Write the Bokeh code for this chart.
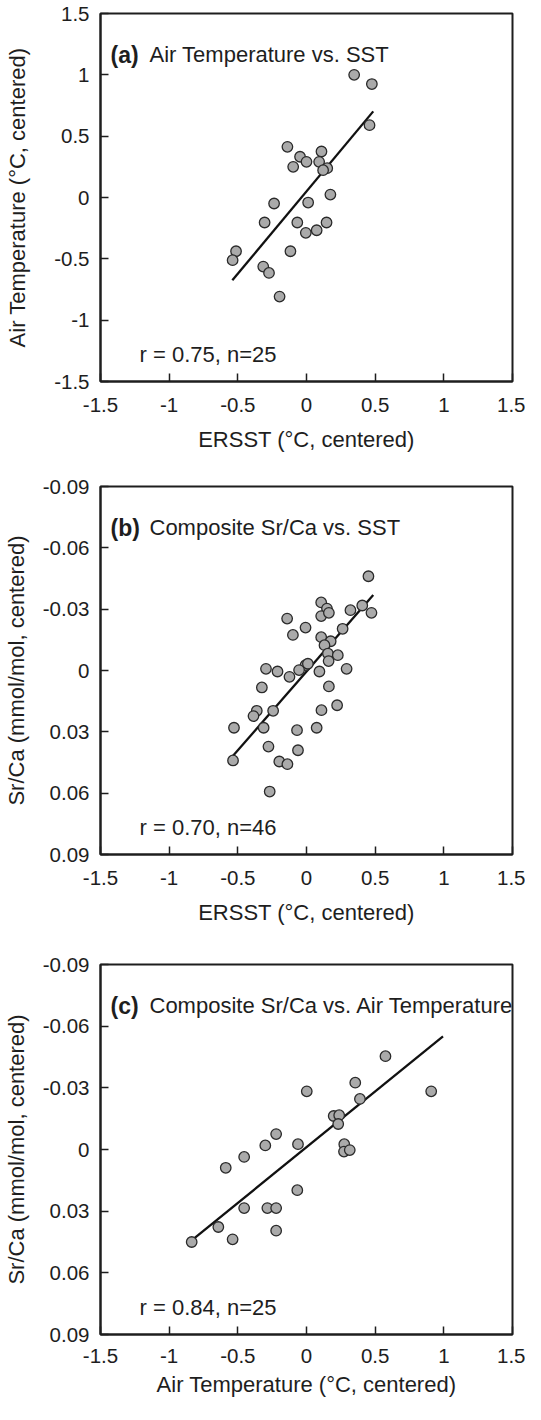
from bokeh.plotting import figure
from bokeh.models import Range1d, FixedTicker, Label
from bokeh.layouts import column
from bokeh.embed import file_html
from bokeh.resources import INLINE

# ---------------- data ----------------
# (a) Air temperature vs. ERSST
sst_a = [0.347, 0.476, 0.459, -0.139, 0.109, -0.047, 0.0, 0.092, -0.097, 0.151,
         0.121, 0.174, -0.236, 0.012, -0.305, -0.067, 0.146, 0.074, -0.005, -0.513,
         -0.117, -0.538, -0.315, -0.273, -0.196]
air_a = [1.0, 0.925, 0.59, 0.413, 0.375, 0.332, 0.291, 0.291, 0.25, 0.239,
         0.223, 0.024, -0.049, -0.041, -0.204, -0.204, -0.204, -0.267, -0.288, -0.438,
         -0.438, -0.511, -0.563, -0.615, -0.808]
fit_a_x = [-0.54, 0.486]
fit_a_y = [-0.675, 0.702]

# (b) Composite Sr/Ca vs. ERSST
sst_b = [0.451, 0.107, 0.149, 0.320, 0.406, 0.473, 0.107, 0.163, -0.141, -0.007,
         0.263, -0.099, 0.107, 0.176, 0.131, 0.156, 0.228, 0.161, -0.007, 0.010,
         -0.054, 0.094, 0.292, -0.295, -0.211, -0.124, -0.325, 0.163, 0.223, 0.109,
         -0.362, -0.386, -0.243, -0.528, -0.312, -0.069, 0.074, -0.277, -0.062, -0.535,
         -0.198, -0.139, -0.268]
srca_b = [-0.0461, -0.0333, -0.0303, -0.0295, -0.0318, -0.0282, -0.0266, -0.0282, -0.0254, -0.0210,
          -0.0204, -0.0174, -0.0163, -0.0143, -0.0124, -0.0083, -0.0075, -0.0046, -0.0026, -0.0033,
          -0.0002, 0.0005, -0.0008, -0.0008, 0.0005, 0.0031, 0.0083, 0.0078, 0.0170, 0.0194,
          0.0197, 0.0223, 0.0197, 0.0280, 0.0280, 0.0292, 0.0280, 0.0372, 0.0390, 0.0440,
          0.0445, 0.0458, 0.0592]
fit_b_x = [-0.535, 0.486]
fit_b_y = [0.0417, -0.0369]

# (c) Composite Sr/Ca vs. Air temperature
air_c = [0.575, 0.355, 0.908, 0.002, 0.389, 0.198, 0.238, 0.231, -0.221, -0.300,
         -0.062, 0.275, 0.273, 0.315, -0.454, -0.588, -0.067, -0.454, -0.285, -0.221,
         -0.642, -0.221, -0.538, -0.836]
srca_c = [-0.0454, -0.0325, -0.0283, -0.0283, -0.0246, -0.0163, -0.0167, -0.0124, -0.0075, -0.0020,
          -0.0026, -0.0026, 0.0010, 0.0003, 0.0036, 0.0089, 0.0198, 0.0285, 0.0285, 0.0285,
          0.0377, 0.0395, 0.0437, 0.0450]
fit_c_x = [-0.836, 0.994]
fit_c_y = [0.0442, -0.0550]

temp_ticks = [-1.5, -1, -0.5, 0, 0.5, 1, 1.5]
temp_tick_labels = ["-1.5", "-1", "-0.5", "0", "0.5", "1", "1.5"]
srca_ticks = [-0.09, -0.06, -0.03, 0, 0.03, 0.06, 0.09]
srca_tick_labels = ["-0.09", "-0.06", "-0.03", "0", "0.03", "0.06", "0.09"]

panel_tags = ["(a)", "(b)", "(c)"]
panel_titles = ["Air Temperature vs. SST", "Composite Sr/Ca vs. SST",
                "Composite Sr/Ca vs. Air Temperature"]
stats = ["r = 0.75, n=25", "r = 0.70, n=46", "r = 0.84, n=25"]
x_labels = ["ERSST (\u00b0C, centered)", "ERSST (\u00b0C, centered)",
            "Air Temperature (\u00b0C, centered)"]
y_labels = ["Air Temperature (\u00b0C, centered)", "Sr/Ca (mmol/mol, centered)",
            "Sr/Ca (mmol/mol, centered)"]

FONT = "Liberation Sans"
INK = "#1e1e1e"


def make_panel(i, xs, ys, fx, fy, yticks, ylabels, yrange, height, top, bottom,
               ylab_standoff, xtick_standoff, xlab_standoff):
    p = figure(width=525, height=height, output_backend="svg", toolbar_location=None,
               x_range=Range1d(-1.5, 1.5), y_range=yrange,
               min_border_left=96, min_border_right=13,
               min_border_top=top, min_border_bottom=bottom)
    p.xgrid.visible = False
    p.ygrid.visible = False
    p.outline_line_color = INK
    p.outline_line_width = 2
    p.background_fill_color = "white"
    p.border_fill_color = "white"

    p.xaxis.ticker = FixedTicker(ticks=temp_ticks)
    p.xaxis.major_label_overrides = {t: s for t, s in zip(temp_ticks, temp_tick_labels)}
    p.yaxis.ticker = FixedTicker(ticks=yticks)
    p.yaxis.major_label_overrides = {t: s for t, s in zip(yticks, ylabels)}

    for ax in (p.xaxis, p.yaxis):
        ax.axis_line_color = INK
        ax.axis_line_width = 2
        ax.major_tick_line_color = INK
        ax.major_tick_line_width = 1.5
        ax.major_tick_in = 8
        ax.major_tick_out = 0
        ax.minor_tick_line_color = None
        ax.major_label_text_font = FONT
        ax.major_label_text_font_size = "20.5px"
        ax.major_label_text_color = INK
        ax.axis_label_text_font = FONT
        ax.axis_label_text_font_size = "22px"
        ax.axis_label_text_font_style = "normal"
        ax.axis_label_text_color = INK

    p.xaxis.axis_label = x_labels[i]
    p.yaxis.axis_label = y_labels[i]
    p.yaxis.major_label_standoff = 11
    p.yaxis.axis_label_standoff = ylab_standoff
    p.xaxis.major_label_standoff = xtick_standoff
    p.xaxis.axis_label_standoff = xlab_standoff

    p.line(fx, fy, line_color="#111111", line_width=2.3)
    p.scatter(xs, ys, size=10.5, fill_color="#aaaaaa", line_color="#2a2a2a",
              line_width=1.3)

    ytop = yrange.end
    ybot = yrange.start
    p.add_layout(Label(x=-1.5, y=ytop, x_offset=10, y_offset=-41, text=panel_tags[i],
                       text_font=FONT, text_font_size="23px", text_font_style="bold",
                       text_color=INK, text_baseline="alphabetic"))
    p.add_layout(Label(x=-1.5, y=ytop, x_offset=49, y_offset=-41, text=panel_titles[i],
                       text_font=FONT, text_font_size="22px", text_color=INK,
                       text_baseline="alphabetic"))
    p.add_layout(Label(x=-1.5, y=ybot, x_offset=39, y_offset=27, text=stats[i],
                       text_font=FONT, text_font_size="22px", text_color=INK,
                       text_baseline="alphabetic"))
    return p


pa = make_panel(0, sst_a, air_a, fit_a_x, fit_a_y, temp_ticks, temp_tick_labels,
                Range1d(-1.5, 1.5), 472, 13, 91, 21, 16, 12)
pb = make_panel(1, sst_b, srca_b, fit_b_x, fit_b_y, srca_ticks, srca_tick_labels,
                Range1d(0.09, -0.09), 476, 14, 94, 11, 16, 12)
pc = make_panel(2, air_c, srca_c, fit_c_x, fit_c_y, srca_ticks, srca_tick_labels,
                Range1d(0.09, -0.09), 456, 16, 70, 11, 14, 6)

layout = column(pa, pb, pc, spacing=0)
open("out.html", "w").write(file_html(layout, INLINE))
